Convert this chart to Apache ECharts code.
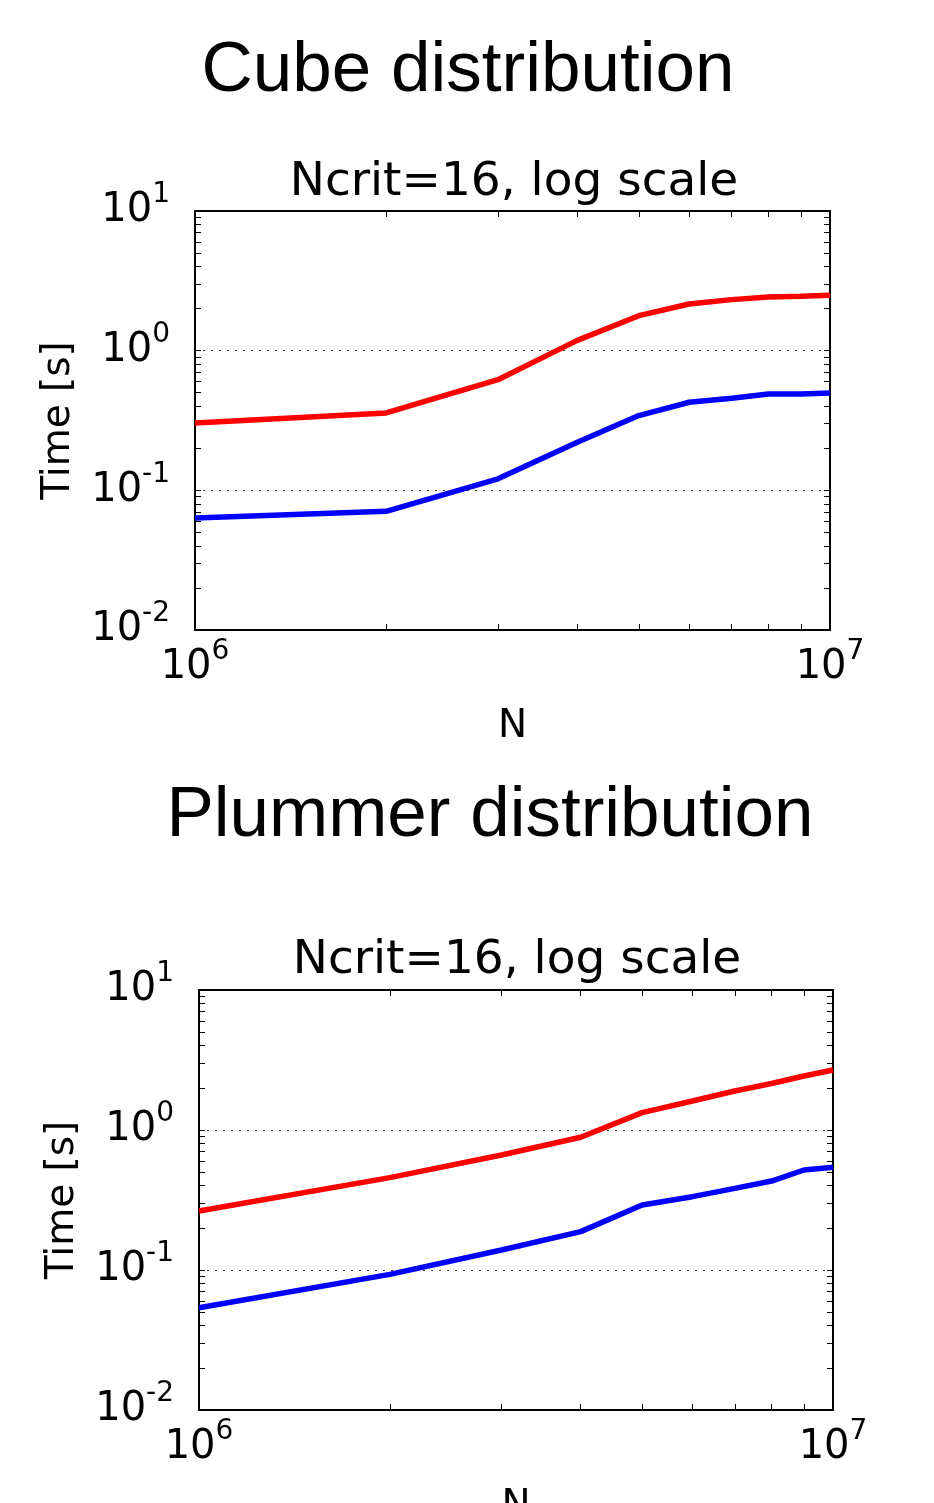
<!DOCTYPE html>
<html><head><meta charset="utf-8">
<script src="https://cdn.jsdelivr.net/npm/echarts@6/dist/echarts.min.js"></script>
<style>html,body{margin:0;padding:0;background:#fff}#c{width:934px;height:1503px}</style>
</head><body><div id="c"></div>
<script>
// ---- data ----
const N = [1e6, 2e6, 3e6, 4e6, 5e6, 6e6, 7e6, 8e6, 9e6, 1e7];
const cubeRed   = [0.303, 0.358, 0.62, 1.185, 1.78, 2.16, 2.32, 2.42, 2.45, 2.49];
const cubeBlue  = [0.0634, 0.0708, 0.121, 0.221, 0.343, 0.427, 0.456, 0.49, 0.49, 0.498];
const plumRed   = [0.264, 0.457, 0.663, 0.887, 1.33, 1.61, 1.90, 2.15, 2.43, 2.68];
const plumBlue  = [0.0538, 0.0931, 0.139, 0.188, 0.291, 0.334, 0.383, 0.432, 0.518, 0.541];
const xTicks = [1e6, 1e7];
const yTicks = [0.01, 0.1, 1, 10];
const figTitles = ['Cube distribution', 'Plummer distribution'];
const subTitle = 'Ncrit=16, log scale';
const xName = 'N';
const yName = 'Time [s]';

// ---- layout / style ----
const FONT = 'DejaVu Sans';
const grids = [
  {left: 195, top: 211, width: 635, height: 419},
  {left: 199, top: 990, width: 634, height: 420}
];
const titlePos = [{x: 468, y: 71}, {x: 490, y: 816}];
const subPos = [{x: 514, y: 183}, {x: 517, y: 961}];

function minorVals(lo, hi) {
  const e0 = Math.round(Math.log10(lo)), e1 = Math.round(Math.log10(hi));
  const v = [];
  for (let e = e0; e < e1; e++) for (let k = 1; k <= 9; k++) v.push(e + Math.log10(k));
  v.push(e1);
  return v;
}
function supLabel(v) {
  const e = Math.round(Math.log10(v));
  return '{b|10}{s|' + (e < 0 ? '-' + (-e) : e) + '}';
}
const rich = {
  b: {fontSize: 40, fontFamily: FONT, lineHeight: 60, color: '#000'},
  s: {fontSize: 28, fontFamily: FONT, lineHeight: 28, verticalAlign: 'top', color: '#000'}
};
const xMinor = minorVals(xTicks[0], xTicks[xTicks.length - 1]);
const yMinor = minorVals(yTicks[0], yTicks[yTicks.length - 1]);
const blackLine = {color: '#000', width: 2};
const tickStyle = {show: true, inside: true, length: 6, lineStyle: {color: '#000', width: 1}};

const xAxis = [], yAxis = [], series = [], graphic = [];
const dataSets = [[cubeRed, cubeBlue], [plumRed, plumBlue]];
grids.forEach((g, i) => {
  xAxis.push({gridIndex: i, type: 'log', logBase: 10, min: xTicks[0], max: xTicks[xTicks.length - 1],
    position: 'bottom', axisLine: {onZero: false, lineStyle: blackLine}, axisTick: {show: false},
    splitLine: {show: false},
    axisLabel: {margin: 8, formatter: supLabel, rich: rich, showMinLabel: true, showMaxLabel: true},
    name: xName, nameLocation: 'middle', nameGap: 77,
    nameTextStyle: {fontSize: 39, fontFamily: FONT, color: '#000'}});
  xAxis.push({gridIndex: i, type: 'value', min: Math.log10(xTicks[0]), max: Math.log10(xTicks[xTicks.length - 1]),
    position: 'bottom', axisLine: {show: false, onZero: false},
    axisTick: Object.assign({customValues: xMinor}, tickStyle), axisLabel: {show: false}, splitLine: {show: false}});
  xAxis.push({gridIndex: i, type: 'value', min: Math.log10(xTicks[0]), max: Math.log10(xTicks[xTicks.length - 1]),
    position: 'top', axisLine: {show: true, onZero: false, lineStyle: blackLine},
    axisTick: Object.assign({customValues: xMinor}, tickStyle), axisLabel: {show: false}, splitLine: {show: false}});

  yAxis.push({gridIndex: i, type: 'log', logBase: 10, min: yTicks[0], max: yTicks[yTicks.length - 1], interval: 1,
    position: 'left', axisLine: {onZero: false, lineStyle: blackLine}, axisTick: {show: false},
    splitLine: {show: true, lineStyle: {type: [2, 6], color: '#444', width: 1}},
    axisLabel: {margin: 25, formatter: supLabel, rich: rich, showMinLabel: true, showMaxLabel: true},
    name: yName, nameLocation: 'middle', nameGap: 117, nameRotate: 90,
    nameTextStyle: {fontSize: 39, fontFamily: FONT, color: '#000'}});
  yAxis.push({gridIndex: i, type: 'value', min: Math.log10(yTicks[0]), max: Math.log10(yTicks[yTicks.length - 1]),
    position: 'left', axisLine: {show: false, onZero: false},
    axisTick: Object.assign({customValues: yMinor}, tickStyle), axisLabel: {show: false}, splitLine: {show: false}});
  yAxis.push({gridIndex: i, type: 'value', min: Math.log10(yTicks[0]), max: Math.log10(yTicks[yTicks.length - 1]),
    position: 'right', axisLine: {show: true, onZero: false, lineStyle: blackLine},
    axisTick: Object.assign({customValues: yMinor}, tickStyle), axisLabel: {show: false}, splitLine: {show: false}});

  const colors = ['#ff0000', '#0000ff'];
  dataSets[i].forEach((arr, j) => {
    series.push({type: 'line', xAxisIndex: 3 * i, yAxisIndex: 3 * i, showSymbol: false, symbol: 'none',
      data: N.map((n, k) => [n, arr[k]]), lineStyle: {color: colors[j], width: 5.5}, itemStyle: {color: colors[j]},
      animation: false, z: 3});
  });

  graphic.push({type: 'text', x: titlePos[i].x, y: titlePos[i].y,
    style: {text: figTitles[i], font: '71px "Liberation Sans"', fill: '#000', align: 'center', verticalAlign: 'middle'}});
  graphic.push({type: 'text', x: subPos[i].x, y: subPos[i].y,
    style: {text: subTitle, font: '47px "DejaVu Sans"', fill: '#000', align: 'center', verticalAlign: 'middle'}});
});

const chart = echarts.init(document.getElementById('c'), null, {renderer: 'canvas'});
chart.setOption({
  backgroundColor: '#fff',
  animation: false,
  grid: grids.map(g => Object.assign({containLabel: false, outerBoundsMode: 'none'}, g)),
  xAxis: xAxis,
  yAxis: yAxis,
  series: series,
  graphic: graphic
});
</script>
</body></html>
